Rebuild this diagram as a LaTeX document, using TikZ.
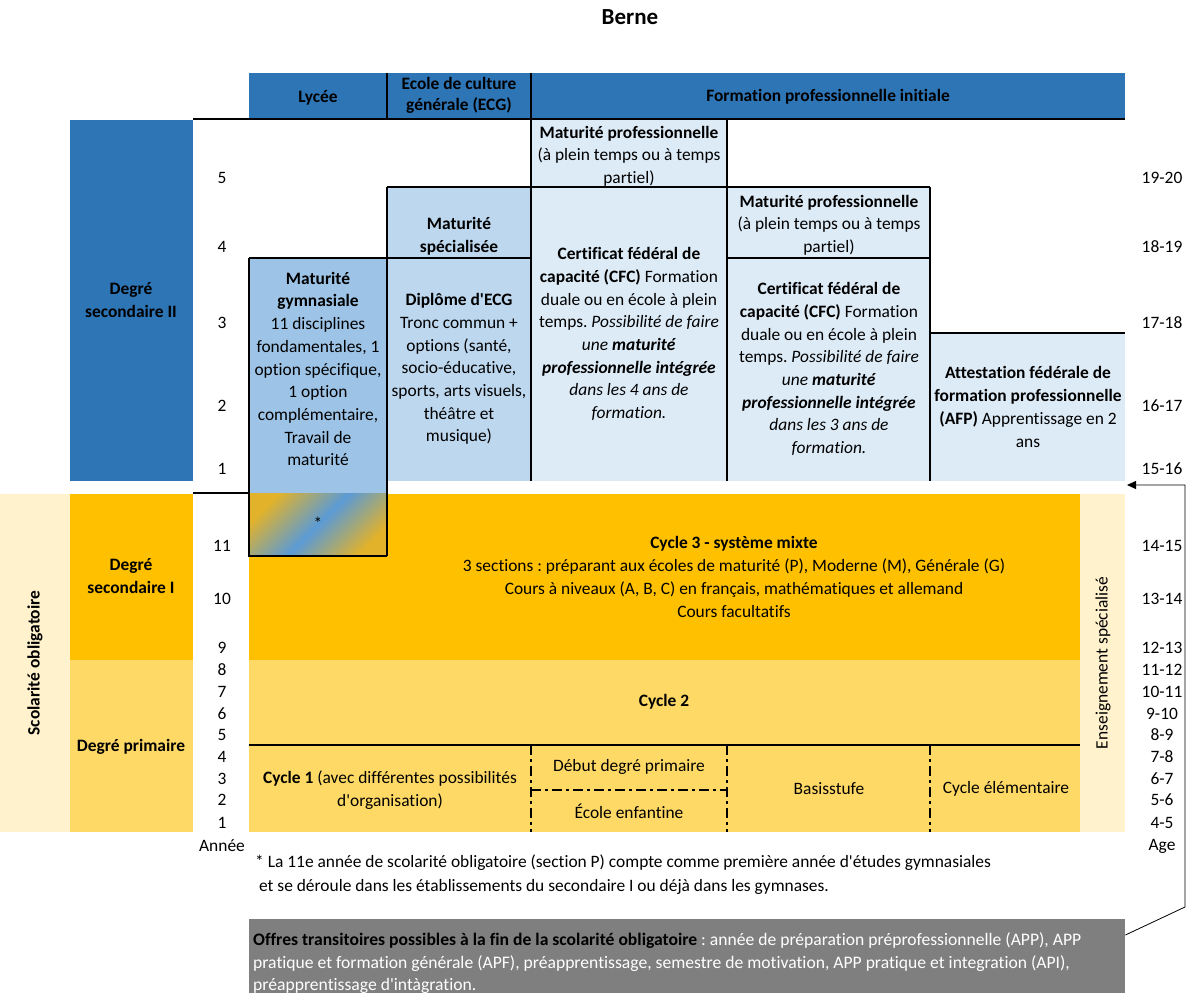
\documentclass[tikz,border=0pt]{standalone}
\usepackage{fontspec}
\setmainfont{Carlito}[Ligatures=CommonOff]
\usetikzlibrary{arrows.meta}
\newcommand\aq{\textquotesingle}
\frenchspacing
\definecolor{dblue}{HTML}{2E75B6}
\definecolor{mblue}{HTML}{9DC3E6}
\definecolor{sblue}{HTML}{BDD7EE}
\definecolor{pblue}{HTML}{DDEBF7}
\definecolor{orng}{HTML}{FFC000}
\definecolor{lyel}{HTML}{FFD966}
\definecolor{crem}{HTML}{FFF2CC}
\definecolor{gry}{HTML}{7F7F7F}
\definecolor{gyel}{HTML}{E2B22A}
\definecolor{gblu}{HTML}{5B9BD5}
\tikzset{
  bord/.style={line width=1.6pt, black},
  ddline/.style={line width=1.2pt, black, dash pattern=on 10pt off 4pt on 3pt off 4pt},
  txt/.style={inner sep=0pt, align=center, font=\fontsize{17.4}{22.7}\selectfont},
  btxt/.style={txt, font=\fontsize{17.4}{22.7}\selectfont\bfseries},
  ltxt/.style={inner sep=0pt, anchor=base west, font=\fontsize{17.4}{22.7}\selectfont},
  num/.style={inner sep=0pt, font=\fontsize{17.4}{20}\selectfont},
  conn/.style={line width=0.8pt, black}
}
\begin{document}
\frenchspacing
\begin{tikzpicture}[x=1pt,y=-1pt]
\useasboundingbox (0,0) rectangle (1200,993);
% title
\node[inner sep=0pt, font=\fontsize{23}{26}\selectfont\bfseries] (title) at (630,17) {Berne};
% fills
\fill[dblue] (249,73) rectangle (1125,119);
\fill[dblue] (70,120) rectangle (193,481);
\fill[pblue] (531,120) rectangle (727,187);
\fill[sblue] (387,187) rectangle (531,258);
\fill[pblue] (531,187) rectangle (727,481);
\fill[pblue] (727,187) rectangle (930,258);
\fill[pblue] (727,258) rectangle (930,481);
\fill[pblue] (930,333) rectangle (1125,481);
\fill[mblue] (249,258) rectangle (387,493);
\fill[sblue] (387,258) rectangle (531,481);
\fill[crem] (0,494) rectangle (70,832);
\fill[orng] (70,494) rectangle (193,660);
\fill[lyel] (70,660) rectangle (193,832);
\fill[orng] (249,494) rectangle (1080,660);
\fill[lyel] (249,660) rectangle (1080,832);
\fill[crem] (1080,494) rectangle (1125,832);
\shade[top color=gyel, bottom color=gyel, middle color=gblu, shading angle=45] (249,493) rectangle (387,556);
% borders
\draw[bord] (193,119) -- (1125,119);
\draw[bord] (387,73) -- (387,119);
\draw[bord] (531,73) -- (531,481);
\draw[bord] (727,119) -- (727,481);
\draw[bord] (387,187) -- (930,187);
\draw[bord] (387,187) -- (387,556);
\draw[bord] (249,258) -- (531,258);
\draw[bord] (727,258) -- (930,258);
\draw[bord] (930,187) -- (930,481);
\draw[bord] (930,333) -- (1125,333);
\draw[bord] (249,258) -- (249,556) -- (387,556);
\draw[bord] (193,493) -- (249,493);
\draw[bord] (249,745) -- (1080,745);
\draw[ddline] (531,745) -- (531,832);
\draw[ddline] (727,745) -- (727,832);
\draw[ddline] (930,745) -- (930,832);
\draw[ddline] (531,790) -- (727,790);
% header text
\node[btxt, font=\fontsize{17.4}{21}\selectfont\bfseries] (hlyc) at (318,98) {Lycée};
\node[btxt, font=\fontsize{17.4}{21}\selectfont\bfseries] (hecg) at (459,95) {Ecole de culture\\générale (ECG)};
\node[btxt] (hfpi) at (828,97) {Formation professionnelle initiale};
% left labels
\node[btxt] (dsec2) at (131,300) {Degré\\secondaire II};
\node[btxt] (dsec1) at (131,576) {Degré\\secondaire I};
\node[btxt] (dprim) at (131,747) {Degré primaire};
\node[btxt, rotate=90] (scol) at (35,663) {Scolarité obligatoire};
\node[txt, rotate=90] (ensp) at (1103,663) {Enseignement spécialisé};
% boxes text
\node[txt] (mpro1) at (629,156) {\textbf{Maturité professionnelle}\\(à plein temps ou à temps\\partiel)};
\node[txt] (mspe) at (459,236) {\textbf{Maturité}\\\textbf{spécialisée}};
\node[txt] (mgym) at (318,369) {\textbf{Maturité}\\\textbf{gymnasiale}\\11 disciplines\\fondamentales, 1\\option spécifique,\\1 option\\complémentaire,\\Travail de\\maturité};
\node[txt] (decg) at (459,369) {\textbf{Diplôme d\aq ECG}\\Tronc commun +\\options (santé,\\socio-éducative,\\sports, arts visuels,\\théâtre et\\musique)};
\node[txt] (cfc4) at (629,334) {\textbf{Certificat fédéral de}\\\textbf{capacité (CFC)} Formation\\duale ou en école à plein\\temps. \textit{Possibilité de faire}\\\textit{une \textbf{maturité}}\\\textit{\textbf{professionnelle intégrée}}\\\textit{dans les 4 ans de}\\\textit{formation.}};
\node[txt] (mpro2) at (829,225) {\textbf{Maturité professionnelle}\\(à plein temps ou à temps\\partiel)};
\node[txt] (cfc3) at (829,369) {\textbf{Certificat fédéral de}\\\textbf{capacité (CFC)} Formation\\duale ou en école à plein\\temps. \textit{Possibilité de faire}\\\textit{une \textbf{maturité}}\\\textit{\textbf{professionnelle intégrée}}\\\textit{dans les 3 ans de}\\\textit{formation.}};
\node[txt] (afp) at (1028,407) {\textbf{Attestation fédérale de}\\\textbf{formation professionnelle}\\\textbf{(AFP)} Apprentissage en 2\\ans};
\node[txt] (star) at (318,523) {*};
\node[txt] (cyc3) at (734,577) {\textbf{Cycle 3 - système mixte}\\3 sections : préparant aux écoles de maturité (P), Moderne (M), Générale (G)\\Cours à niveaux (A, B, C) en français, mathématiques et allemand\\Cours facultatifs};
\node[txt] (cyc2) at (664,702) {\textbf{Cycle 2}};
\node[txt] (cyc1) at (390,790) {\textbf{Cycle 1} (avec différentes possibilités\\d\aq organisation)};
\node[txt] (debut) at (629,767) {Début degré primaire};
\node[txt] (ecole) at (629,811) {École enfantine};
\node[txt] (basis) at (829,789) {Basisstufe};
\node[txt] (celem) at (1006,789) {Cycle élémentaire};
% years
\node[num] (y5) at (222,178) {5};
\node[num] (y4) at (222,247) {4};
\node[num] (y3) at (222,323) {3};
\node[num] (y2) at (222,406) {2};
\node[num] (y1) at (222,469) {1};
\node[num] (p11) at (222,546) {11};
\node[num] (p10) at (222,599) {10};
\node[num] (p9) at (222,648) {9};
\node[num] (p8) at (222,670) {8};
\node[num] (p7) at (222,692) {7};
\node[num] (p6) at (222,714) {6};
\node[num] (p5) at (222,735) {5};
\node[num] (p4) at (222,757) {4};
\node[num] (p3) at (222,779) {3};
\node[num] (p2) at (222,800) {2};
\node[num] (p1) at (222,823) {1};
\node[num] (annee) at (222,846) {Année};
% ages
\node[num] (a1) at (1162,178) {19-20};
\node[num] (a2) at (1162,247) {18-19};
\node[num] (a3) at (1162,323) {17-18};
\node[num] (a4) at (1162,406) {16-17};
\node[num] (a5) at (1162,469) {15-16};
\node[num] (a6) at (1162,546) {14-15};
\node[num] (a7) at (1162,599) {13-14};
\node[num] (a8) at (1162,648) {12-13};
\node[num] (a9) at (1162,670) {11-12};
\node[num] (a10) at (1162,692) {10-11};
\node[num] (a11) at (1162,714) {9-10};
\node[num] (a12) at (1162,735) {8-9};
\node[num] (a13) at (1162,757) {7-8};
\node[num] (a14) at (1162,779) {6-7};
\node[num] (a15) at (1162,800) {5-6};
\node[num] (a16) at (1162,823) {4-5};
\node[num] (age) at (1162,846) {Age};
% footnote
\node[ltxt] (fn1) at (255,867) {* La 11e année de scolarité obligatoire (section P) compte comme première année d\aq études gymnasiales};
\node[ltxt] (fn2) at (255,891) {\ et se déroule dans les établissements du secondaire I ou déjà dans les gymnases.};
% offers box
\node[fill=gry, inner sep=0pt, minimum width=876pt, minimum height=74pt, anchor=north west] (offers) at (249,919) {};
\node[ltxt, text=white, font=\fontsize{17.6}{22.7}\selectfont] (off1) at (253,945) {\textcolor{black}{\textbf{Offres transitoires possibles à la fin de la scolarité obligatoire}} : année de préparation préprofessionnelle (APP), APP};
\node[ltxt, text=white, font=\fontsize{17.6}{22.7}\selectfont] (off2) at (253,968) {pratique et formation générale (APF), préapprentissage, semestre de motivation, APP pratique et integration (API),};
\node[ltxt, text=white, font=\fontsize{17.6}{22.7}\selectfont] (off3) at (253,990) {préapprentissage d\aq intàgration.};
% connector
\coordinate (bend1) at (1185,907);
\coordinate (bend2) at (1185,485);
\coordinate (arrowtip) at (1127,485);
\draw[conn, -{Triangle[length=9pt,width=8pt]}] (offers.east |- 0,935) -- (bend1) -- (bend2) -- (arrowtip);
\end{tikzpicture}
\end{document}
